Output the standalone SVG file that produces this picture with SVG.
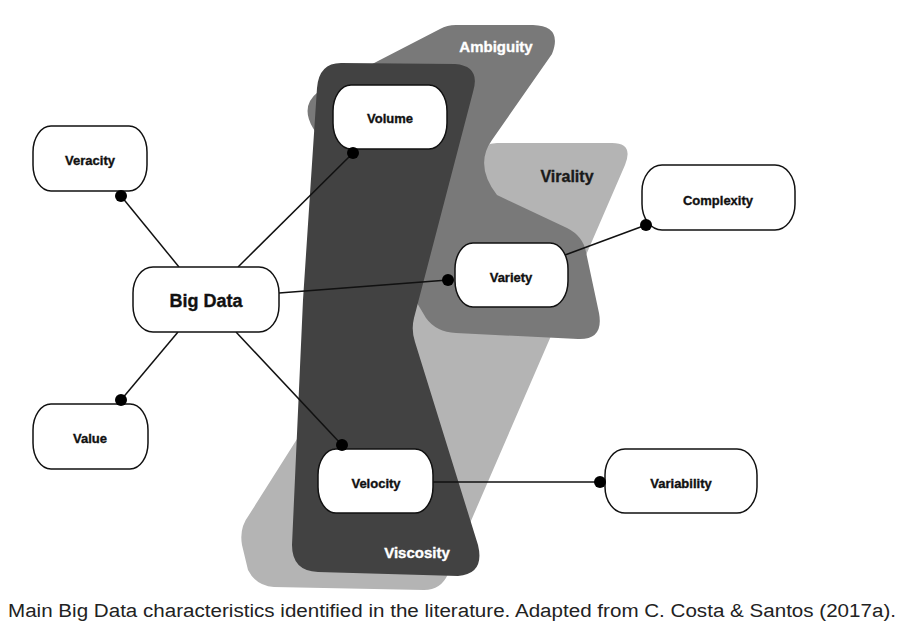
<svg xmlns="http://www.w3.org/2000/svg" width="912" height="636" viewBox="0 0 912 636">
<style>
.node{fill:#fff;stroke:#111;stroke-width:1.5}
.lbl{font-family:"Liberation Sans",Arial,sans-serif;font-weight:bold;font-size:13px;fill:#111;stroke:#111;stroke-width:0.35;text-anchor:middle}
.grp{font-family:"Liberation Sans",Arial,sans-serif;font-weight:bold;font-size:15px;stroke-width:0.35;text-anchor:middle}
.edge{stroke:#111;stroke-width:1.5;fill:none}
.dot{fill:#000}
</style>
<rect width="912" height="636" fill="#fff"/>
<g id="virality">
<path fill="#b4b4b4" d="M497,143 L612,143 Q634,143 625,165 L448,574 Q441,590 424,590 L274,587 Q256,586 248,570 L242,545 Q239,528 249,515 L478,153 Q484,143 497,143 Z"/>
<text class="grp" x="567" y="182" fill="#1a1a1a" stroke="#1a1a1a" style="font-size:16px">Virality</text>
</g>
<g id="ambiguity">
<path fill="#797979" d="M456,25 L533,25 Q563,26 552,54 L492,140 Q474,165 497,195 L567,228 Q583,236 586,252 L599,313 Q604,340 578,339 L456,333 Q436,332 426,318 L313,128 Q300,106 318,92 L440,29 Q447,25 456,25 Z"/>
<text class="grp" x="496" y="52" fill="#fff" stroke="#fff">Ambiguity</text>
</g>
<g id="viscosity">
<path fill="#424242" d="M341,63 L455,64 Q481,66 473,92 L414,318 Q411,330 415,342 L478,545 Q485,574 458,576 L318,572 Q292,571 292,545 L303,300 L317,88 Q319,63 341,63 Z"/>
<text class="grp" x="417" y="558" fill="#fff" stroke="#fff">Viscosity</text>
</g>
<g id="connectors">
<line class="edge" x1="179" y1="267" x2="121" y2="196"/>
<line class="edge" x1="178" y1="332" x2="121" y2="400"/>
<line class="edge" x1="238" y1="267" x2="353" y2="153"/>
<line class="edge" x1="279" y1="293" x2="448" y2="280"/>
<line class="edge" x1="236" y1="332" x2="342" y2="445"/>
<line class="edge" x1="565" y1="255" x2="646" y2="225"/>
<line class="edge" x1="433" y1="482" x2="600" y2="482"/>
</g>
<g id="n-veracity"><rect class="node" x="33" y="126" width="114" height="65" rx="18" ry="26"/><text class="lbl" x="90" y="165">Veracity</text></g>
<g id="n-bigdata"><rect class="node" x="133" y="267" width="146" height="65" rx="20" ry="26"/><text class="lbl" x="206" y="307" style="font-size:18px">Big Data</text></g>
<g id="n-value"><rect class="node" x="33" y="404" width="115" height="65" rx="18" ry="26"/><text class="lbl" x="90" y="443">Value</text></g>
<g id="n-volume"><rect class="node" x="333" y="85" width="114" height="64" rx="18" ry="26"/><text class="lbl" x="390" y="123">Volume</text></g>
<g id="n-variety"><rect class="node" x="455" y="243" width="113" height="64" rx="18" ry="26"/><text class="lbl" x="511" y="282">Variety</text></g>
<g id="n-velocity"><rect class="node" x="318" y="449" width="115" height="64" rx="18" ry="26"/><text class="lbl" x="376" y="488">Velocity</text></g>
<g id="n-complexity"><rect class="node" x="642" y="165" width="153" height="65" rx="20" ry="26"/><text class="lbl" x="718" y="205">Complexity</text></g>
<g id="n-variability"><rect class="node" x="605" y="449" width="152" height="64" rx="20" ry="26"/><text class="lbl" x="681" y="488">Variability</text></g>
<g id="dots">
<circle class="dot" cx="121" cy="196" r="6"/>
<circle class="dot" cx="121" cy="400" r="6"/>
<circle class="dot" cx="353" cy="153" r="6"/>
<circle class="dot" cx="448" cy="280" r="6"/>
<circle class="dot" cx="342" cy="445" r="6"/>
<circle class="dot" cx="646" cy="225" r="6"/>
<circle class="dot" cx="600" cy="482" r="6"/>
</g>
<text x="8" y="617" font-family="'Liberation Sans',Arial,sans-serif" font-size="18" fill="#222" textLength="888" lengthAdjust="spacingAndGlyphs">Main Big Data characteristics identified in the literature. Adapted from C. Costa &amp; Santos (2017a).</text>
</svg>
